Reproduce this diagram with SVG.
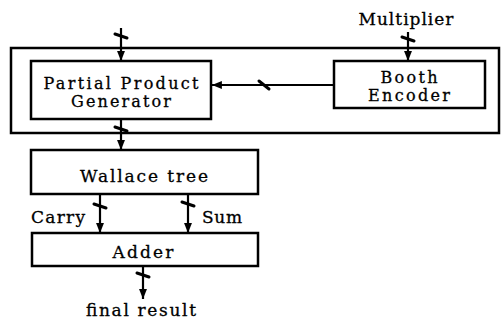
<svg xmlns="http://www.w3.org/2000/svg" width="502" height="320" viewBox="0 0 502 320">
<defs>
<marker id="ah" viewBox="0 0 10 10" refX="10" refY="5" markerWidth="4.5" markerHeight="4.5" markerUnits="strokeWidth" orient="auto">
<path d="M0,1 L10,5 L0,9 Z" fill="#000"/>
</marker>
<style>
.box{fill:#fff;stroke:#000;stroke-width:2.5}
.frame{fill:none;stroke:#000;stroke-width:2.5}
.wire{fill:none;stroke:#000;stroke-width:2.2}
.tick{fill:none;stroke:#000;stroke-width:3;stroke-linecap:round}
text{font-family:"DejaVu Serif","Liberation Serif",serif;font-size:17px;fill:#000;stroke:#000;stroke-width:0.3;text-anchor:middle}
.s{font-size:16px}
.l{text-anchor:start}
</style>
</defs>
<rect width="502" height="320" fill="#fff"/>
<g id="frame"><rect class="frame" x="11" y="48" width="488" height="85"/></g>
<g id="ppg">
<rect class="box" x="31" y="61" width="180" height="58"/>
<text class="s" x="121" y="89" textLength="155" lengthAdjust="spacing">Partial Product</text>
<text class="s" x="121" y="107" textLength="100" lengthAdjust="spacing">Generator</text>
</g>
<g id="booth">
<rect class="box" x="334" y="61" width="151" height="47"/>
<text class="s" x="409" y="83" textLength="57" lengthAdjust="spacing">Booth</text>
<text class="s" x="409" y="101" textLength="82" lengthAdjust="spacing">Encoder</text>
</g>
<g id="wallace">
<rect class="box" x="31" y="150" width="227" height="44"/>
<text x="144" y="182" textLength="128" lengthAdjust="spacing">Wallace tree</text>
</g>
<g id="adder">
<rect class="box" x="32" y="233" width="226" height="33"/>
<text x="143" y="258" textLength="61" lengthAdjust="spacing">Adder</text>
</g>
<g id="labels">
<text x="406" y="25" textLength="95" lengthAdjust="spacing">Multiplier</text>
<text class="l" x="31" y="223" textLength="54" lengthAdjust="spacing">Carry</text>
<text class="l" x="202" y="223" textLength="40" lengthAdjust="spacing">Sum</text>
<text x="141" y="316" textLength="110" lengthAdjust="spacing">final result</text>
</g>
<g id="connectors">
<line class="wire" x1="121" y1="28" x2="121" y2="61" marker-end="url(#ah)"/>
<path class="tick" d="M115,34 L127,38"/>
<line class="wire" x1="408" y1="32" x2="408" y2="61" marker-end="url(#ah)"/>
<path class="tick" d="M402,37 L414,41"/>
<line class="wire" x1="334" y1="85" x2="212" y2="85" marker-end="url(#ah)"/>
<path class="tick" d="M259,81 L269,89"/>
<line class="wire" x1="121" y1="119" x2="121" y2="150" marker-end="url(#ah)"/>
<path class="tick" d="M115,127 L127,131"/>
<line class="wire" x1="100" y1="194" x2="100" y2="233" marker-end="url(#ah)"/>
<path class="tick" d="M94,204 L106,208"/>
<line class="wire" x1="188" y1="194" x2="188" y2="233" marker-end="url(#ah)"/>
<path class="tick" d="M182,202 L194,206"/>
<line class="wire" x1="143" y1="266" x2="143" y2="299" marker-end="url(#ah)"/>
<path class="tick" d="M137,273 L149,277"/>
</g>
</svg>
